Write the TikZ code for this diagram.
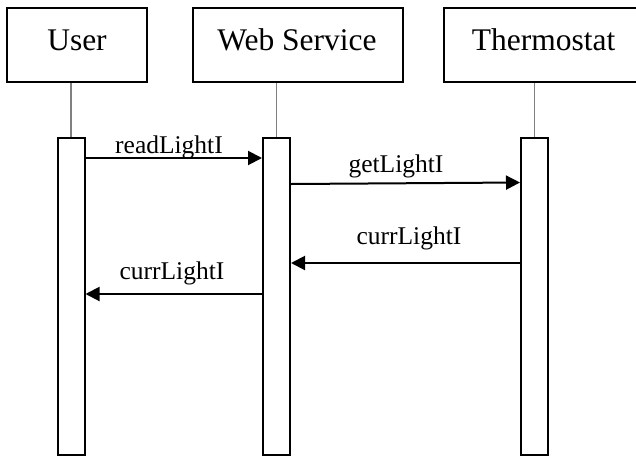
\documentclass[tikz,border=0pt]{standalone}
\usepackage{fontspec}
\setmainfont{Liberation Serif}
\usetikzlibrary{arrows.meta}
\begin{document}
\begin{tikzpicture}[x=1pt,y=-1pt,
  head/.style={draw=black, line width=2pt, fill=white, inner sep=0pt},
  act/.style={draw=black, line width=2pt, fill=white, inner sep=0pt, minimum width=27pt, minimum height=317pt},
  life/.style={draw=black!50, line width=1.5pt},
  msg/.style={draw=black, line width=2pt, -{Triangle[length=14pt,width=14pt]}},
  ttl/.style={font=\fontsize{31.5}{36}\selectfont, anchor=base},
  lbl/.style={font=\fontsize{25.5}{30}\selectfont, anchor=base}]
\useasboundingbox (0,0) rectangle (636,458);
\clip (0,0) rectangle (636,458);
\fill[white] (0,0) rectangle (636,458);
% heads
\node[head, minimum width=140pt, minimum height=74pt] (user) at (77,45) {};
\node[head, minimum width=210pt, minimum height=74pt] (ws) at (298,45) {};
\node[head, minimum width=199pt, minimum height=74pt] (th) at (543.5,45) {};
\node[ttl] (userT) at (77,50) {User};
\node[ttl] (wsT) at (297,50) {Web Service};
\node[ttl] (thT) at (543.5,50) {Thermostat};
% activations
\node[act] (ua) at (71,296.5) {};
\node[act] (wa) at (276.5,296.5) {};
\node[act] (ta) at (534.5,296.5) {};
% lifelines
\draw[life] (ua.north |- user.south) -- (ua.north);
\draw[life] (wa.north |- ws.south) -- (wa.north);
\draw[life] (ta.north |- th.south) -- (ta.north);
% message end points
\coordinate (m1a) at (ua.east |- 0,158);
\coordinate (m1b) at (wa.west |- 0,158);
\coordinate (m2a) at (wa.east |- 0,184);
\coordinate (m2b) at (ta.west |- 0,182.5);
\coordinate (m3a) at (ta.west |- 0,263);
\coordinate (m3b) at (wa.east |- 0,263);
\coordinate (m4a) at (wa.west |- 0,294);
\coordinate (m4b) at (ua.east |- 0,294);
\draw[msg] (m1a) -- (m1b);
\draw[msg] (m2a) -- (m2b);
\draw[msg] (m3a) -- (m3b);
\draw[msg] (m4a) -- (m4b);
\node[lbl] (l1) at (169,153) {readLightI};
\node[lbl] (l2) at (396,172) {getLightI};
\node[lbl] (l3) at (409,244) {currLightI};
\node[lbl] (l4) at (172,279) {currLightI};
\end{tikzpicture}
\end{document}
